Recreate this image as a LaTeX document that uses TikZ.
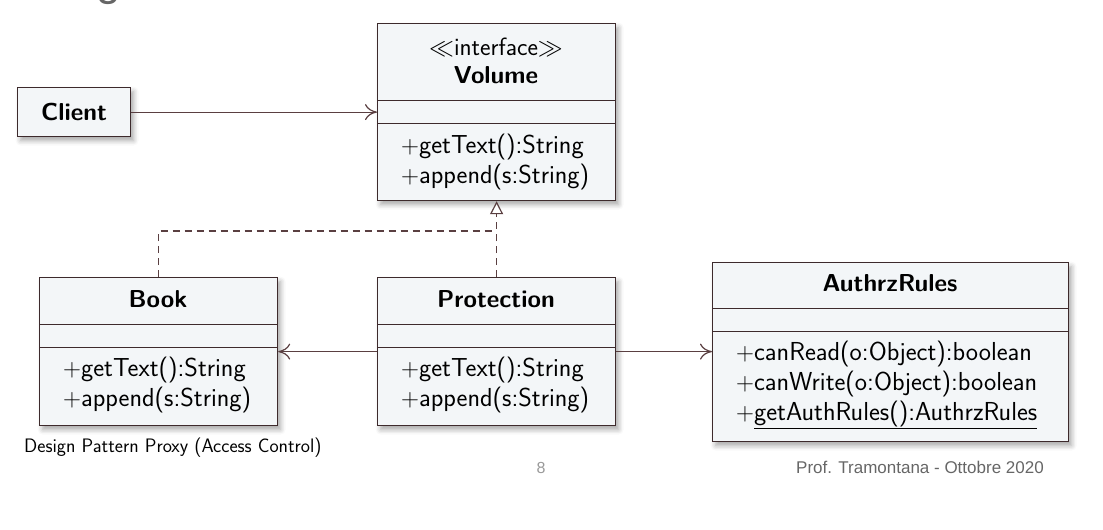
\documentclass[tikz,border=0pt]{standalone}
\usepackage{fontspec}
\newfontfamily\arialfont{Liberation Sans}
\usetikzlibrary{arrows.meta,shadows.blur}
\renewcommand{\familydefault}{\sfdefault}
\definecolor{boxfill}{HTML}{F3F6F8}
\definecolor{bordc}{HTML}{3D2A2C}
\definecolor{linec}{HTML}{5A3F41}
\definecolor{footc}{HTML}{666666}
\tikzset{
  cls/.style={draw=bordc, fill=boxfill, line width=1.2pt, inner sep=0pt, anchor=north west,
    blur shadow={shadow xshift=3pt, shadow yshift=-4pt, shadow blur radius=5pt, shadow opacity=35}},
  divider/.style={draw=bordc, line width=1pt},
  ttl/.style={font=\fontsize{24.5}{28}\selectfont\bfseries, inner sep=0pt},
  ops/.style={font=\fontsize{26}{30}\selectfont, align=left, anchor=west, inner sep=0pt},
  assoc/.style={draw=linec, line width=1.2pt, -{Computer Modern Rightarrow[length=12pt,width=16pt]}},
  realize/.style={draw=linec, line width=1.2pt, dash pattern=on 7pt off 5pt},
  realtip/.style={-{Triangle[open,length=13pt,width=13pt,fill=white]}}
}
\begin{document}
\begin{tikzpicture}[x=1pt,y=-1pt]
\useasboundingbox (0,0) rectangle (1103,530);
\begin{scope}
  \clip (0,0) rectangle (1103,530);
  \node[anchor=base west, inner sep=0pt, text=footc, font=\arialfont\fontsize{44}{44}\selectfont] (ttlg) at (96,-5) {g};
\end{scope}
% class boxes
\node[cls, minimum width=113pt, minimum height=49pt] (client) at (17,87) {};
\node[cls, minimum width=238pt, minimum height=177pt] (vol) at (377,23) {};
\node[cls, minimum width=238pt, minimum height=148pt] (book) at (39,277) {};
\node[cls, minimum width=238pt, minimum height=148pt] (prot) at (377,277) {};
\node[cls, minimum width=356pt, minimum height=179pt] (auth) at (712,262) {};
% dividers
\draw[divider] (vol.west |- 0,100.5) -- (vol.east |- 0,100.5);
\draw[divider] (vol.west |- 0,123.5) -- (vol.east |- 0,123.5);
\draw[divider] (book.west |- 0,324.5) -- (book.east |- 0,324.5);
\draw[divider] (book.west |- 0,347.5) -- (book.east |- 0,347.5);
\draw[divider] (prot.west |- 0,324.5) -- (prot.east |- 0,324.5);
\draw[divider] (prot.west |- 0,347.5) -- (prot.east |- 0,347.5);
\draw[divider] (auth.west |- 0,308.5) -- (auth.east |- 0,308.5);
\draw[divider] (auth.west |- 0,331.5) -- (auth.east |- 0,331.5);
% texts
\node[ttl] (clientname) at (client.center) {Client};
\node[font=\fontsize{25}{28}\selectfont, inner sep=0pt] (volstereo) at (496,47) {$\ll$interface$\gg$};
\node[ttl] (volname) at (496,75) {Volume};
\node[ops] (volops) at (401,162) {$+$getText():String\\$+$append(s:String)};
\node[ttl] (bookname) at (158,299) {Book};
\node[ops] (bookops) at (63,385) {$+$getText():String\\$+$append(s:String)};
\node[ttl] (protname) at (496,299) {Protection};
\node[ops] (protops) at (401,385) {$+$getText():String\\$+$append(s:String)};
\node[ttl] (authname) at (890,283) {AuthrzRules};
\node[ops] (authops) at (736,385) {$+$canRead(o:Object):boolean\\$+$canWrite(o:Object):boolean\\$+$\underline{getAuthRules():AuthrzRules}};
% connectors
\draw[assoc] (client.east) -- (vol.west |- client.east);
\draw[assoc] (prot.west) -- (book.east);
\draw[assoc] (prot.east) -- (auth.west |- prot.east);
\coordinate (join) at (496,231);
\draw[realize] (book.north) |- (join);
\draw[realize, realtip] (prot.north) -- (vol.south);
% captions
\node[anchor=west, inner sep=0pt, font=\fontsize{19.5}{22}\selectfont] (caption) at (24,448) {Design Pattern Proxy (Access Control)};
\node[inner sep=0pt, text=gray!80, font=\arialfont\fontsize{16}{18}\selectfont] (pagenum) at (541,468) {8};
\node[anchor=west, inner sep=0pt, text=footc, font=\arialfont\fontsize{17}{20}\selectfont] (footer) at (796,467) {Prof. Tramontana - Ottobre 2020};
\end{tikzpicture}
\end{document}
